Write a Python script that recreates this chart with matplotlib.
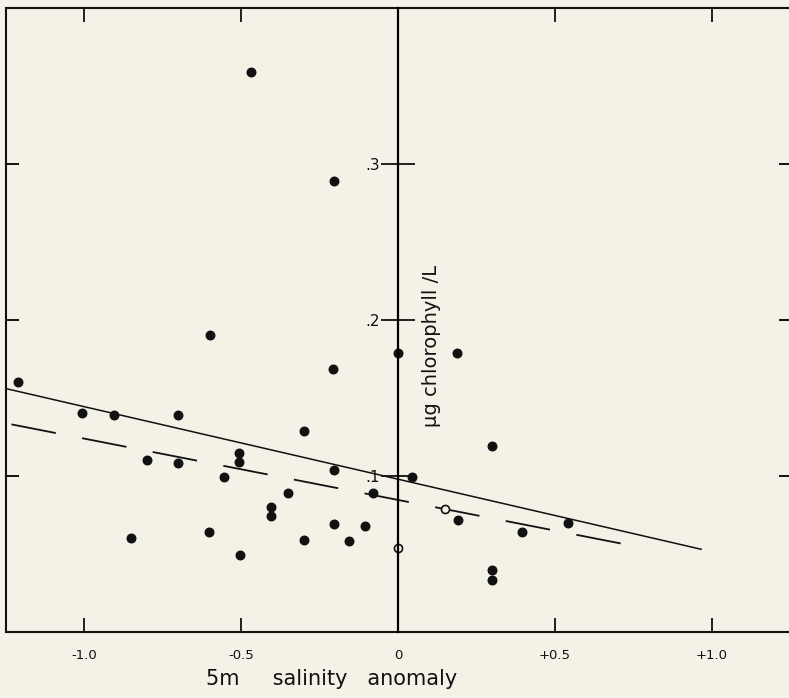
import matplotlib.pyplot as plt

plt.rcParams['font.family'] = ['DejaVu Sans']
plt.rcParams['lines.scale_dashes'] = False

# salinity anomaly (x) vs chlorophyll (y)
sal_filled = [-1.21, -1.005, -0.905, -0.70, -0.80, -0.70, -0.505, -0.505, -0.553,
              -0.60, -0.468, -0.852, -0.603, -0.503, -0.404, -0.404, -0.352,
              -0.30, -0.30, -0.204, -0.206, -0.203, -0.203, -0.157, -0.104,
              -0.080, 0.0, 0.045, 0.189, 0.191, 0.298, 0.298, 0.298, 0.395, 0.542]
chl_filled = [0.160, 0.140, 0.139, 0.139, 0.110, 0.108, 0.1145, 0.109, 0.099,
              0.190, 0.359, 0.060, 0.064, 0.049, 0.080, 0.074, 0.089,
              0.129, 0.059, 0.289, 0.1686, 0.104, 0.069, 0.058, 0.068,
              0.089, 0.179, 0.099, 0.179, 0.072, 0.119, 0.040, 0.033, 0.064, 0.070]
sal_open = [0.0, 0.148]
chl_open = [0.054, 0.079]

# regression lines (end points)
fit_x = [-1.25, 0.965]
fit_y = [0.156, 0.053]
dash_x = [-1.231, 0.712]
dash_y = [0.133, 0.0566]

xticks = [-1.0, -0.5, 0.0, 0.5, 1.0]
xtick_labels = ['-1.0', '-0.5', '0', '+0.5', '+1.0']
yticks = [0.1, 0.2, 0.3]
ytick_labels = ['.1', '.2', '.3']

bg = '#f4f1e7'
ink = '#111111'
fig = plt.figure(figsize=(7.89, 6.98), dpi=100, facecolor=bg)
pos = [0.007, 0.0946, 0.995, 0.8944]
ax = fig.add_axes(pos, facecolor=bg)
ax.set_xlim(-1.25, 1.25)
ax.set_ylim(0, 0.40)

ax.plot(fit_x, fit_y, color=ink, lw=1.1)
ax.plot(dash_x, dash_y, color=ink, lw=1.3, dashes=(32.5, 19.3))
ax.scatter(sal_filled, chl_filled, s=38, color=ink, zorder=3)
ax.scatter(sal_open, chl_open, s=34, facecolor=bg, edgecolor=ink, lw=1.2, zorder=3)

for s in ax.spines.values():
    s.set_linewidth(1.5)
    s.set_color(ink)

ax.set_xticks(xticks, xtick_labels)
ax.set_yticks(yticks)
ax.tick_params(axis='x', which='both', direction='in', length=10, width=1.3,
               top=True, bottom=True, pad=12, labelsize=9.5, colors=ink)
ax.tick_params(axis='y', direction='in', length=9, width=1.3, left=True, right=True,
               labelleft=False)
ax.set_xlabel('5m     salinity   anomaly', fontsize=15, color=ink)
ax.xaxis.set_label_coords(0.415, -0.06)

# central vertical axis at zero salinity
ax2 = fig.add_axes(pos, facecolor='none')
ax2.set_xlim(-1.25, 1.25)
ax2.set_ylim(0, 0.40)
for side in ['top', 'right', 'bottom']:
    ax2.spines[side].set_visible(False)
ax2.spines['left'].set_position(('data', 0))
ax2.spines['left'].set_linewidth(1.6)
ax2.set_xticks([])
ax2.set_yticks(yticks, ytick_labels)
ax2.tick_params(axis='y', direction='inout', length=24, width=1.3, pad=1,
                labelsize=11, colors=ink)
ax2.text(0.105, 0.183, 'μg chlorophyll /L', rotation=90, fontsize=14,
         ha='center', va='center', color=ink)

fig.savefig('out.png', dpi=100, facecolor=bg)
